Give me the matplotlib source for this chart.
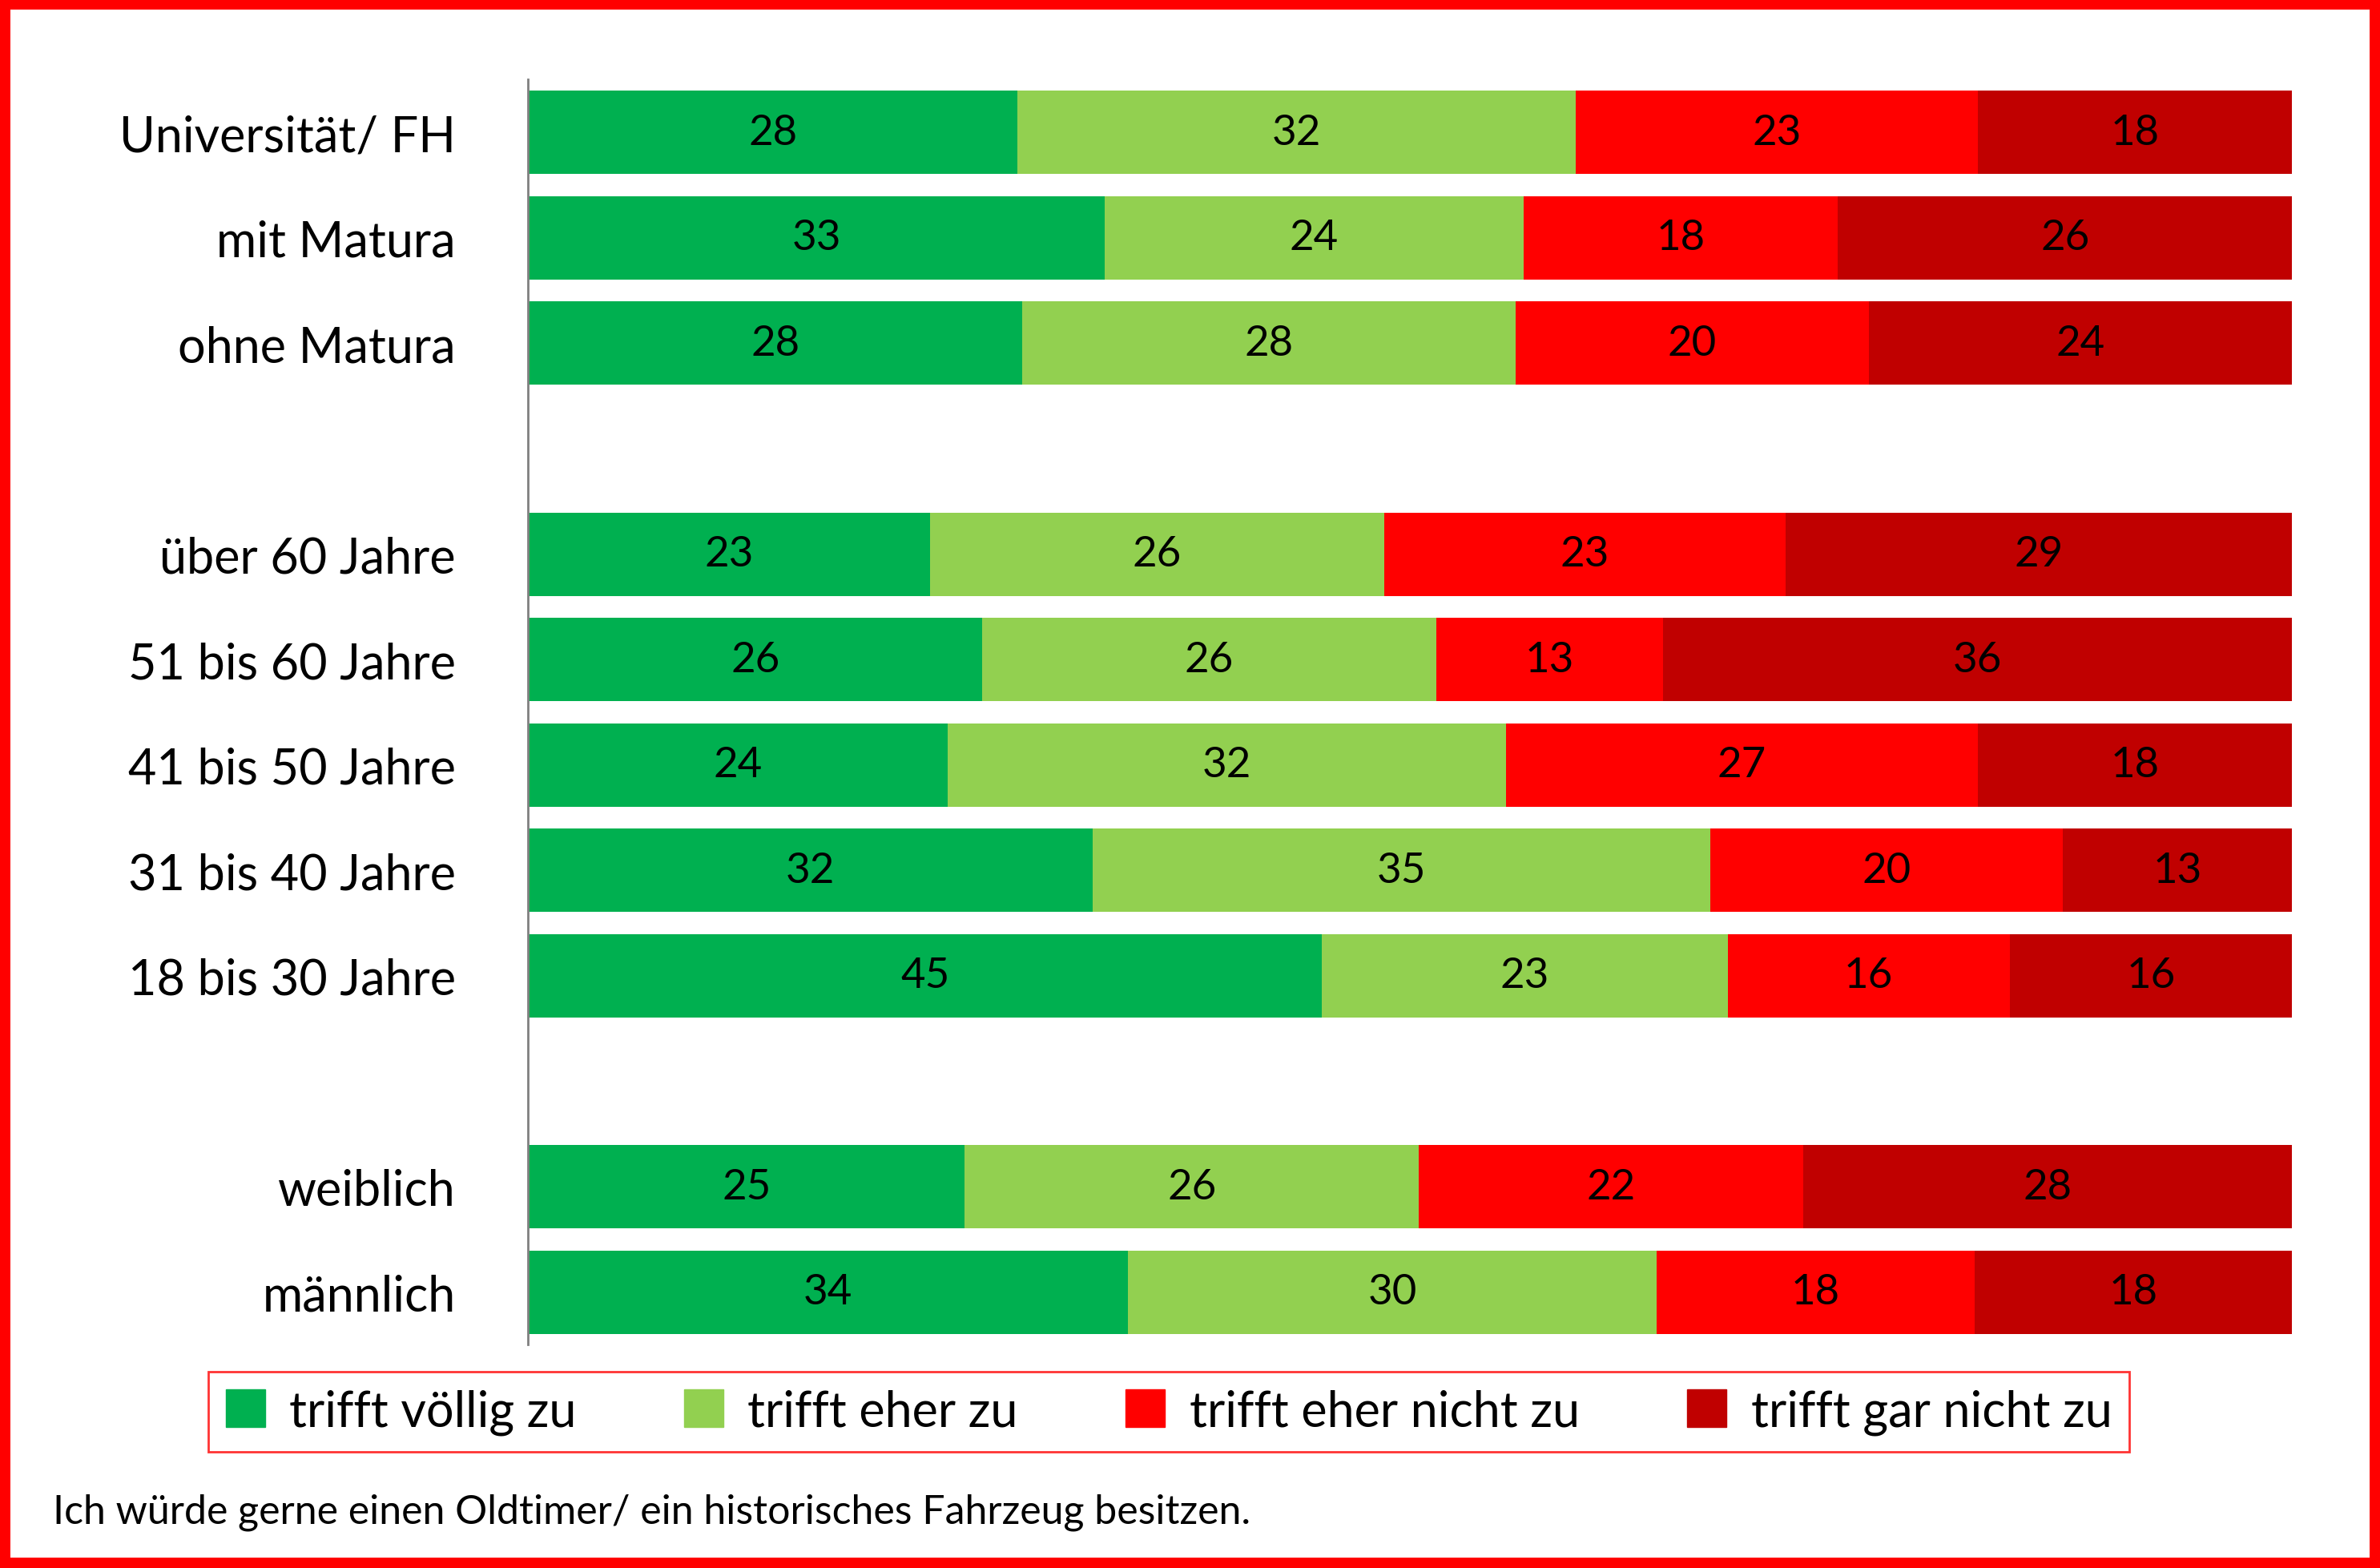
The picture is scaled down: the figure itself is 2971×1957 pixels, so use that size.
import matplotlib.pyplot as plt
import matplotlib.patches as mpatches
import numpy as np

plt.rcParams['font.family'] = ['Lato', 'DejaVu Sans']

categories = ["Universität/ FH", "mit Matura", "ohne Matura", "",
              "über 60 Jahre", "51 bis 60 Jahre", "41 bis 50 Jahre", "31 bis 40 Jahre", "18 bis 30 Jahre", "",
              "weiblich", "männlich"]
s1 = [28, 33, 28, None, 23, 26, 24, 32, 45, None, 25, 34]
s2 = [32, 24, 28, None, 26, 26, 32, 35, 23, None, 26, 30]
s3 = [23, 18, 20, None, 23, 13, 27, 20, 16, None, 22, 18]
s4 = [18, 26, 24, None, 29, 36, 18, 13, 16, None, 28, 18]
series_names = ["trifft völlig zu", "trifft eher zu", "trifft eher nicht zu", "trifft gar nicht zu"]
colors = ["#00B050", "#92D050", "#FF0000", "#C00000"]

fig = plt.figure(figsize=(29.71, 19.58), dpi=100)
ax = fig.add_axes([348/1568, 1-886/1033, (1510-348)/1568, 833/1033])
series = [s1, s2, s3, s4]
for i, cat in enumerate(categories):
    if s1[i] is None:
        continue
    vals = np.array([s[i] for s in series], float)
    tot = vals.sum()
    left = 0.0
    for v, c in zip(vals, colors):
        w = v / tot * 100
        ax.barh(i, w, left=left, height=0.79, color=c)
        ax.text(left + w/2, i, f"{int(v)}", ha='center', va='center', fontsize=38, color='black')
        left += w
ax.set_ylim(11.5, -0.5)
ax.set_xlim(0, 100)
ax.set_yticks(range(len(categories)))
ax.set_yticklabels(categories, fontsize=44)
ax.tick_params(axis='y', length=0, pad=65)
ax.set_xticks([])
for sp in ['top', 'right', 'bottom']:
    ax.spines[sp].set_visible(False)
ax.spines['left'].set_color('#808080')
ax.spines['left'].set_linewidth(2)

handles = [mpatches.Patch(color=c, label=n) for c, n in zip(colors, series_names)]
leg = fig.legend(handles=handles, loc='center', bbox_to_anchor=((103+1437)/2/1568, 1-930/1033),
                 ncol=4, fontsize=44, frameon=True, fancybox=False, handlelength=0.8, handleheight=0.8,
                 columnspacing=2.2, handletextpad=0.5, borderpad=0.35)
leg.get_frame().set_edgecolor('#FF0000')
leg.get_frame().set_linewidth(2)

fig.text(35/1568, 1-996/1033, "Ich würde gerne einen Oldtimer/ ein historisches Fahrzeug besitzen.",
         fontsize=36, ha='left', va='center')
fig.patches.append(mpatches.Rectangle((0.002, 0.003), 0.996, 0.994, transform=fig.transFigure,
                                      fill=False, edgecolor='#FF0000', linewidth=10))
fig.savefig("out.png", dpi=100)
